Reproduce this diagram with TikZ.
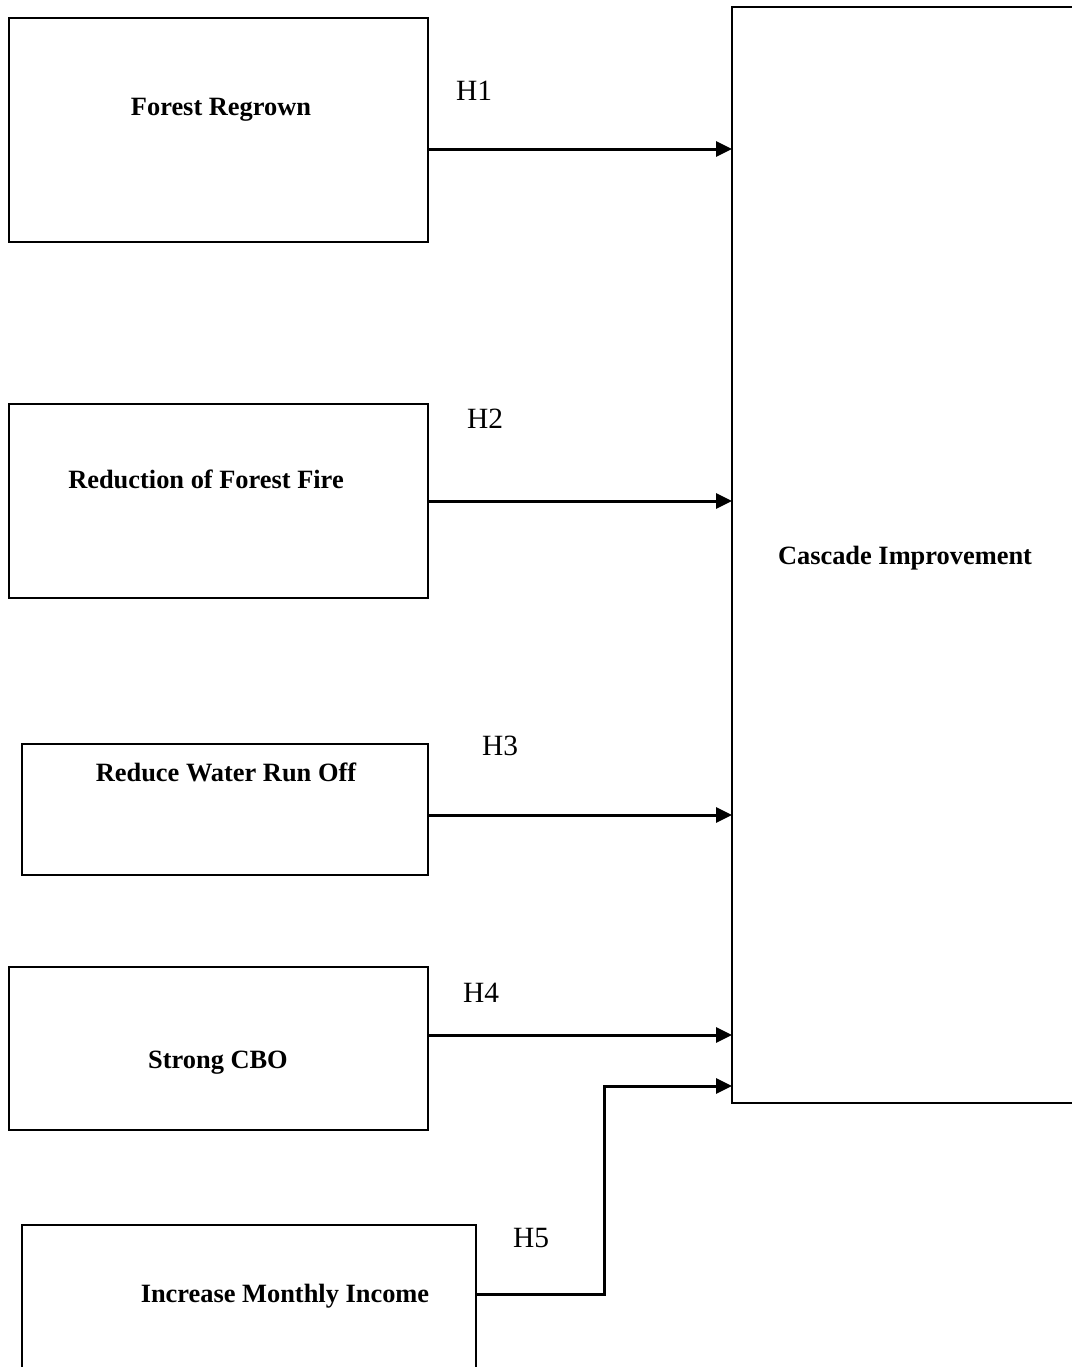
\documentclass[tikz,border=0pt]{standalone}
\usepackage{fontspec}
\setmainfont{Liberation Serif}
\usepackage{tikz}
\usetikzlibrary{arrows.meta, positioning}
\newcommand{\boxtxt}{\fontsize{13.2}{15}\selectfont\bfseries}
\newcommand{\hyptxt}{\fontsize{14.7}{17}\selectfont}

\begin{document}
\begin{tikzpicture}[
    x=0.5pt, y=-0.5pt,
    arr/.style={-{Triangle[length=8pt, width=7.5pt]}, line width=1.5pt, black},
    frame/.style={draw, line width=1.3pt, rectangle, inner sep=0pt, outer sep=0pt},
    lbl/.style={font=\boxtxt, inner sep=0pt},
    hyp/.style={font=\hyptxt, inner sep=0pt},
]
\useasboundingbox (0,0) rectangle (1072,1367);

% input boxes
\node[frame, minimum width=209.5pt, minimum height=112pt] (fr) at (218.5,130) {};
\node[frame, minimum width=209.5pt, minimum height=97pt] (ff) at (218.5,501) {};
\node[frame, minimum width=203pt, minimum height=65.5pt] (wr) at (225,809.5) {};
\node[frame, minimum width=209.5pt, minimum height=81.5pt] (cbo) at (218.5,1048.5) {};
\node[frame, minimum width=227pt, minimum height=87.5pt] (inc) at (249,1312.5) {};

% outcome box
\node[frame, minimum width=179pt, minimum height=548pt] (ci) at (911,555) {};

% box texts
\node[lbl] (frt) at (221,110) {Forest Regrown};
\node[lbl] (fft) at (206,479) {Reduction of Forest Fire};
\node[lbl] (wrt) at (226,772) {Reduce Water Run Off};
\node[lbl] (cbot) at (218,1063) {Strong CBO};
\node[lbl] (inct) at (285,1296) {Increase Monthly Income};
\node[lbl] (cit) at (905,558) {Cascade Improvement};

% hypotheses
\node[hyp] (h1) at (474,91) {H1};
\node[hyp] (h2) at (485,419) {H2};
\node[hyp] (h3) at (500,746) {H3};
\node[hyp] (h4) at (481,993) {H4};
\node[hyp] (h5) at (531,1238) {H5};

\coordinate (bend) at (604,1086);

\draw[arr] (fr.east |- 0,149) -- (ci.west |- 0,149);
\draw[arr] (ff.east) -- (ci.west |- ff.east);
\draw[arr] (wr.east |- 0,815) -- (ci.west |- 0,815);
\draw[arr] (cbo.east |- 0,1035) -- (ci.west |- 0,1035);
\draw[arr] (inc.east |- 0,1294) -| (bend) -- (ci.west |- bend);
\end{tikzpicture}
\end{document}
